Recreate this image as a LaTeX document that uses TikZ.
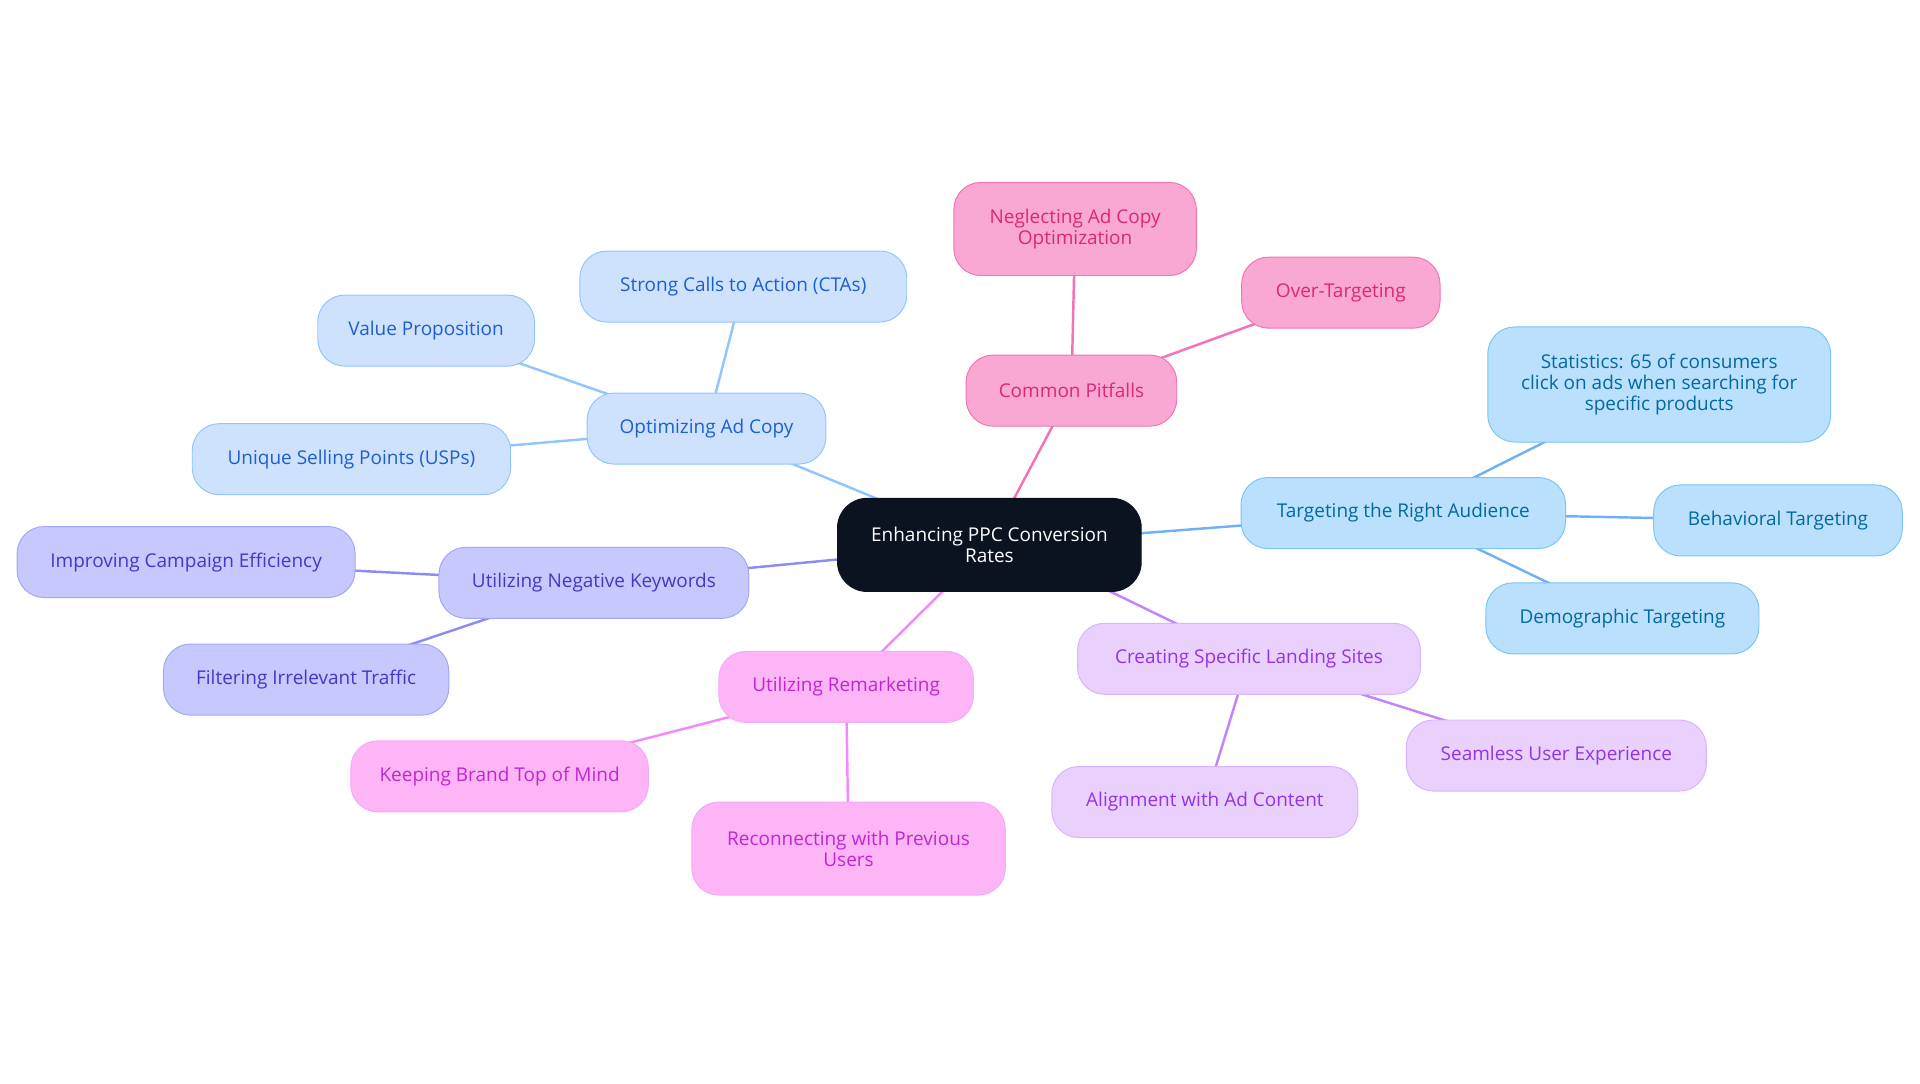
\documentclass[tikz,border=0pt]{standalone}
\usepackage{fontspec}
\setmainfont{Open Sans}
\usetikzlibrary{backgrounds}
\definecolor{cF}{HTML}{0B1320}
\definecolor{pF}{HTML}{F9A8D4}\definecolor{pB}{HTML}{F472B6}\definecolor{pT}{HTML}{DB2777}
\definecolor{bF}{HTML}{CFE2FD}\definecolor{bB}{HTML}{93C5FD}\definecolor{bT}{HTML}{1D5FCF}
\definecolor{sF}{HTML}{BAE0FD}\definecolor{sB}{HTML}{7CC4F5}\definecolor{sT}{HTML}{0369A1}
\definecolor{iF}{HTML}{C7C8FD}\definecolor{iB}{HTML}{A5A6F6}\definecolor{iT}{HTML}{4338CA}\definecolor{iE}{HTML}{8B8CF0}
\definecolor{fF}{HTML}{FDB5F5}\definecolor{fB}{HTML}{F0ABFC}\definecolor{fT}{HTML}{C026D3}
\definecolor{uF}{HTML}{E9D0FD}\definecolor{uB}{HTML}{D8B4FE}\definecolor{uT}{HTML}{9333EA}\definecolor{uE}{HTML}{C084FC}
\tikzset{
 box/.style={rounded corners=22pt,minimum height=58pt,align=center,font=\fontsize{15.5}{17}\selectfont,line width=0.8pt,inner sep=4pt},
 cen/.style={box,fill=cF,draw=cF,text=white,rounded corners=24pt},
 pk/.style={box,fill=pF,draw=pB,text=pT},
 bl/.style={box,fill=bF,draw=bB,text=bT},
 sk/.style={box,fill=sF,draw=sB,text=sT},
 ig/.style={box,fill=iF,draw=iB,text=iT},
 fu/.style={box,fill=fF,draw=fB,text=fT},
 pu/.style={box,fill=uF,draw=uB,text=uT},
 ed/.style={line width=2pt}
}
\begin{document}
\begin{tikzpicture}[x=1pt,y=-1pt]
\useasboundingbox (0,0) rectangle (1568,885);
\node[cen,minimum width=248pt,minimum height=76pt] (c) at (808,445) {Enhancing PPC Conversion\\Rates};
\node[pk,minimum width=172pt] (cp) at (875,319) {Common Pitfalls};
\node[pk,minimum width=198pt,minimum height=76pt] (ng) at (878,187) {Neglecting Ad Copy\\Optimization};
\node[pk,minimum width=162pt] (ot) at (1095,239) {Over-Targeting};
\node[sk,minimum width=265pt] (ta) at (1146,419) {Targeting the Right Audience};
\node[sk,minimum width=280pt,minimum height=94pt] (st) at (1355,314) {Statistics: 65 of consumers\\click on ads when searching for\\specific products};
\node[sk,minimum width=203pt] (bt) at (1452,425) {Behavioral Targeting};
\node[sk,minimum width=223pt] (dt) at (1325,505) {Demographic Targeting};
\node[pu,minimum width=280pt] (ls) at (1020,538) {Creating Specific Landing Sites};
\node[pu,minimum width=245pt] (su) at (1271,617) {Seamless User Experience};
\node[pu,minimum width=250pt] (al) at (984,655) {Alignment with Ad Content};
\node[fu,minimum width=208pt] (rm) at (691,561) {Utilizing Remarketing};
\node[fu,minimum width=243pt] (kb) at (408,634) {Keeping Brand Top of Mind};
\node[fu,minimum width=256pt,minimum height=76pt] (rp) at (693,693) {Reconnecting with Previous\\Users};
\node[ig,minimum width=253pt] (nk) at (485,476) {Utilizing Negative Keywords};
\node[ig,minimum width=276pt] (ic) at (152,459) {Improving Campaign Efficiency};
\node[ig,minimum width=233pt] (fi) at (250,555) {Filtering Irrelevant Traffic};
\node[bl,minimum width=195pt] (oa) at (577,350) {Optimizing Ad Copy};
\node[bl,minimum width=267pt] (sc) at (607,234) {Strong Calls to Action (CTAs)};
\node[bl,minimum width=177pt] (vp) at (348,270) {Value Proposition};
\node[bl,minimum width=260pt] (us) at (287,375) {Unique Selling Points (USPs)};
\begin{scope}[on background layer]
\draw[ed,pB] (c.center) -- (cp.center) -- (ng.center);
\draw[ed,pB] (cp.center) -- (ot.center);
\draw[ed,sB!90!blue] (c.center) -- (ta.center);
\draw[ed,sB!90!blue] (ta.center) -- (st.center) (ta.center) -- (bt.center) (ta.center) -- (dt.center);
\draw[ed,uE] (c.center)++(20,0) -- (ls.center);
\draw[ed,uE] (ls.center) -- (su.center) (ls.center) -- (al.center);
\draw[ed,fB!80!magenta] (c.center) -- (rm.center);
\draw[ed,fB!80!magenta] (rm.center) -- (kb.center) (rm.center) -- (rp.center);
\draw[ed,iE] (c.center) -- (nk.center);
\draw[ed,iE] (nk.center) -- (ic.center) (nk.center) -- (fi.center);
\draw[ed,bB] (c.center) -- (oa.center);
\draw[ed,bB] (oa.center) -- (sc.center) (oa.center) -- (vp.center) (oa.center) -- (us.center);
\end{scope}
\end{tikzpicture}
\end{document}
